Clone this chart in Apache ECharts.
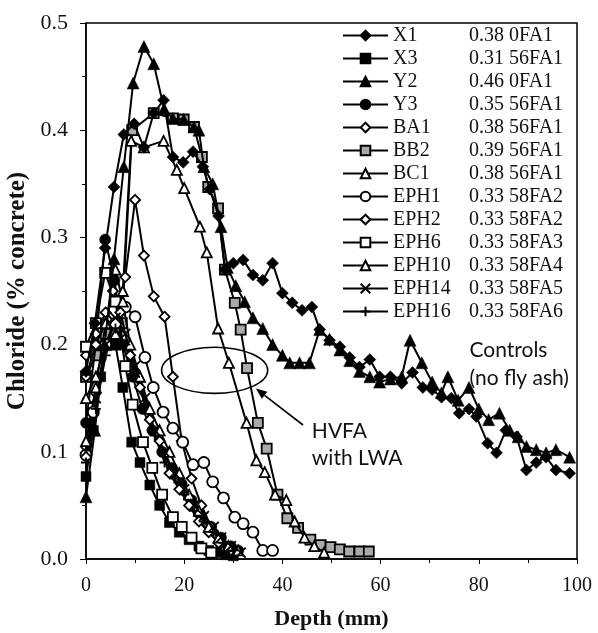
<!DOCTYPE html>
<html><head><meta charset="utf-8">
<script src="https://cdn.jsdelivr.net/npm/echarts@6/dist/echarts.min.js"></script>
<style>html,body{margin:0;padding:0;background:#fff}#c{width:598px;height:633px}</style>
</head><body><div id="c"></div>
<script>
// Mixture label per series (w/c and fly-ash designation)
const seriesNames = ['X1','X3','Y2','Y3','BA1','BB2','BC1','EPH1','EPH2','EPH6','EPH10','EPH14','EPH16'];
const mixInfo = ['0.38 0FA1','0.31 56FA1','0.46 0FA1','0.35 56FA1','0.38 56FA1','0.39 56FA1','0.38 56FA1','0.33 58FA2','0.33 58FA2','0.33 58FA3','0.33 58FA4','0.33 58FA5','0.33 58FA6'];
const xTicks = [0,20,40,60,80,100];
const yTicks = [0,0.1,0.2,0.3,0.4,0.5];

// [depth mm, chloride % concrete]
const X1 = [[0,0.175],[1.8,0.22],[3.9,0.29],[5.7,0.347],[7.7,0.396],[9.8,0.406],[11.8,0.384],[13.8,0.416],[15.8,0.428],[17.7,0.375],[19.8,0.37],[21.8,0.38],[23.8,0.366],[25.2,0.345],[27,0.32],[28.3,0.27],[30,0.276],[32,0.279],[34,0.265],[36,0.26],[38,0.276],[40,0.248],[42,0.239],[44,0.232],[46,0.235],[47.6,0.214],[49.6,0.204],[51.7,0.198],[53.7,0.188],[55.7,0.179],[57.8,0.186],[59.8,0.17],[62,0.17],[64.3,0.164],[66.5,0.174],[68.6,0.16],[70.5,0.158],[72.4,0.151],[74.4,0.15],[76,0.136],[78,0.14],[79.5,0.133],[81.8,0.108],[83.6,0.099],[85.5,0.12],[87.7,0.114],[89.7,0.083],[91.7,0.09],[93.7,0.095],[95.7,0.083],[98.5,0.08]];
const X3 = [[0,0.077],[1.5,0.12],[3,0.17],[4.5,0.2],[6,0.2],[7.5,0.16],[9.3,0.109],[11,0.09],[13,0.069],[15,0.05],[17,0.034],[19,0.025],[21,0.018],[23,0.012],[25,0.008],[26.6,0.006],[28.5,0.004],[30,0.003]];
const Y2 = [[0,0.058],[1.8,0.12],[3.8,0.2],[5.7,0.28],[7.7,0.366],[9.6,0.444],[11.8,0.478],[13.8,0.462],[15.9,0.42],[17.7,0.411],[19.9,0.41],[22,0.403],[23,0.4],[24,0.366],[25.8,0.35],[27.5,0.31],[28.8,0.272],[30.5,0.255],[32.3,0.24],[34,0.225],[36,0.215],[38,0.2],[40,0.19],[41.5,0.183],[43.5,0.183],[45.5,0.183],[47.6,0.214],[49.6,0.205],[51.7,0.195],[53.7,0.185],[55.7,0.175],[57.8,0.17],[59.8,0.165],[62,0.168],[64.3,0.17],[66,0.204],[68.4,0.183],[70.5,0.165],[72.4,0.155],[73.7,0.17],[75.8,0.148],[78,0.16],[80,0.14],[82,0.13],[84.2,0.136],[86.3,0.12],[88,0.114],[89.7,0.105],[91.7,0.102],[93.7,0.099],[95.7,0.102],[98.5,0.095]];
const Y3 = [[0,0.127],[2,0.2],[3.9,0.298],[5.8,0.26],[7.5,0.2],[9.5,0.17],[11.5,0.14],[13.5,0.12],[15.5,0.1],[17.5,0.085],[19.5,0.07],[21.5,0.055],[23.5,0.04],[25.5,0.03],[27.5,0.02],[29.5,0.012],[31,0.008]];
const BA1 = [[0,0.19],[2,0.21],[4,0.23],[6,0.22],[8,0.263],[10,0.335],[11.8,0.283],[13.8,0.245],[16,0.226],[17.7,0.17],[19.5,0.11],[21.5,0.075],[23.5,0.05],[25.5,0.03],[27.5,0.015],[29.5,0.008]];
const BB2 = [[0,0.17],[2,0.19],[4,0.21],[6,0.2],[7.3,0.22],[9.4,0.4],[13.8,0.416],[17.7,0.411],[19.9,0.41],[22,0.403],[23.6,0.375],[24.9,0.347],[26.9,0.327],[28.3,0.27],[30.3,0.239],[31.5,0.214],[32.8,0.178],[35,0.127],[36.8,0.103],[39,0.06],[41,0.038],[43.2,0.029],[45.7,0.018],[47.8,0.013],[49.8,0.011],[51.7,0.009],[53.6,0.007],[55.7,0.007],[57.6,0.007]];
const BC1 = [[0,0.15],[2,0.17],[4,0.2],[6,0.21],[7.5,0.25],[9.2,0.39],[11.8,0.384],[15.8,0.39],[18.5,0.363],[20,0.346],[23.2,0.31],[24.6,0.286],[26.9,0.215],[29.1,0.183],[32.7,0.127],[34.7,0.092],[36.4,0.081],[38.5,0.06],[40.8,0.055],[42.5,0.035],[44.5,0.02],[46.5,0.012],[48.5,0.006]];
const EPH1 = [[0,0.097],[1.5,0.137],[4,0.2],[6,0.22],[8,0.235],[10,0.226],[12,0.188],[13.7,0.16],[15.7,0.137],[17.7,0.122],[19.7,0.109],[21.8,0.088],[24,0.09],[25.8,0.072],[28,0.057],[30.3,0.039],[32,0.033],[34,0.025],[36,0.008],[38,0.008]];
const EPH2 = [[0,0.17],[2,0.2],[4,0.22],[5.5,0.25],[7,0.23],[9,0.19],[11,0.16],[13,0.13],[15,0.11],[17,0.08],[19,0.065],[21,0.05],[23,0.035],[25,0.025],[27,0.015],[29,0.01]];
const EPH6 = [[0,0.198],[2,0.22],[3.9,0.267],[6,0.24],[8,0.18],[9.5,0.144],[11.6,0.109],[13.5,0.085],[15.5,0.06],[17.7,0.039],[19.5,0.03],[21.5,0.02],[23.5,0.01],[25.5,0.006]];
const EPH10 = [[0,0.11],[2,0.16],[4,0.22],[6,0.27],[7.5,0.24],[9,0.2],[11,0.17],[13,0.14],[15,0.12],[17,0.1],[19,0.08],[21,0.06],[23,0.045],[25,0.03],[27,0.02],[29,0.012],[31,0.008]];
const EPH14 = [[0,0.1],[2,0.15],[4,0.2],[6,0.225],[8,0.21],[10,0.18],[12,0.15],[14,0.12],[16,0.1],[18,0.08],[20,0.065],[22,0.05],[24,0.04],[26,0.03],[27.5,0.02],[29.5,0.012],[31.5,0.006]];
const EPH16 = [[0,0.09],[2,0.14],[4,0.19],[6,0.215],[8,0.2],[10,0.17],[12,0.145],[14,0.115],[16,0.09],[18,0.075],[20,0.06],[22,0.045],[24,0.035],[26,0.025],[28,0.015],[30,0.008]];

const allData = [X1,X3,Y2,Y3,BA1,BB2,BC1,EPH1,EPH2,EPH6,EPH10,EPH14,EPH16];
const symbols = ['diamond','rect','triangle','circle','diamond','rect','triangle','circle','diamond','rect','triangle','path://M0,0L10,10M10,0L0,10','path://M5,0L5,10M0,5L10,5'];
const fills = ['#000','#000','#000','#000','#fff','#aaa','#fff','#fff','#fff','#fff','#fff','#000','#000'];
const sizes = [12,10,12,11,10,10,10,11,10,10,10,10,10];
const zs = [5,3,6,3,3,2,3,3,3,3,3,3,3];

const chart = echarts.init(document.getElementById('c'), null, {renderer:'canvas'});
const serif = "'Liberation Serif','Times New Roman',serif";
const mixMap = {};
seriesNames.forEach((n,i)=>mixMap[n]=mixInfo[i]);

const series = seriesNames.map((n,i)=>({
  name:n, type:'line', data:allData[i], symbol:symbols[i], symbolSize:sizes[i],
  showAllSymbol:true, animation:false,
  lineStyle:{color:'#000', width:2},
  itemStyle:{color:fills[i], borderColor:'#000', borderWidth:(i<4?0.5:1.8)},
  z: zs[i]
}));

chart.setOption({
  animation:false,
  grid:{left:86, right:21, top:23, bottom:74, show:true, borderColor:'#000', borderWidth:1.5, containLabel:false, outerBoundsMode:'none'},
  xAxis:{type:'value', min:0, max:100, interval:20,
    name:'Depth (mm)', nameLocation:'middle', nameGap:49,
    nameTextStyle:{fontFamily:serif, fontSize:22, color:'#111', fontWeight:'bold'},
    axisLine:{lineStyle:{color:'#000', width:1.5}},
    axisTick:{show:true, length:5, lineStyle:{color:'#000'}},
    minorTick:{show:true, splitNumber:2, length:4, lineStyle:{color:'#000'}},
    splitLine:{show:false},
    axisLabel:{fontFamily:serif, fontSize:20, color:'#111', margin:17}},
  yAxis:{type:'value', min:0, max:0.5, interval:0.1,
    name:'Chloride (% concrete)', nameLocation:'middle', nameGap:50,
    nameTextStyle:{fontFamily:serif, fontSize:25, color:'#111', fontWeight:'bold'},
    axisLine:{lineStyle:{color:'#000', width:1.5}},
    axisTick:{show:true, length:6, lineStyle:{color:'#000'}},
    minorTick:{show:true, splitNumber:2, length:4, lineStyle:{color:'#000'}},
    splitLine:{show:false},
    axisLabel:{fontFamily:serif, fontSize:22, color:'#111', margin:18, formatter:v=>v.toFixed(1)}},
  legend:{orient:'vertical', left:337, top:20, itemWidth:45, itemHeight:12, itemGap:2,
    data:seriesNames,
    textStyle:{fontFamily:serif, fontSize:20, color:'#111', lineHeight:21,
      rich:{n:{width:76, fontFamily:serif, fontSize:20, color:'#111', lineHeight:21}, v:{fontFamily:serif, fontSize:20, color:'#111', lineHeight:21}}},
    formatter:name=>'{n|'+name+'}{v|'+mixMap[name]+'}'},
  series: series
});

function P(d,v){return chart.convertToPixel({gridIndex:0},[d,v]);}
const c = P(26.2,0.176), ex = P(37,0.176), ey = P(26.2,0.1975);
const a0 = P(44.2,0.125), a1 = P(34.6,0.159);
const ang = Math.atan2(a1[1]-a0[1], a1[0]-a0[0]);
const hl = 11, hw = 4.5;
const bx = a1[0]-hl*Math.cos(ang), by = a1[1]-hl*Math.sin(ang);
const head = [[a1[0],a1[1]],[bx+hw*Math.sin(ang), by-hw*Math.cos(ang)],[bx-hw*Math.sin(ang), by+hw*Math.cos(ang)]];
const t1 = P(78.1,0.208), t2 = P(46.0,0.1315);
const sans = "Lato,'Open Sans',sans-serif";
chart.setOption({graphic:[
  {type:'ellipse', shape:{cx:c[0], cy:c[1], rx:ex[0]-c[0], ry:c[1]-ey[1]}, style:{fill:'none', stroke:'#000', lineWidth:1.6}, z:100},
  {type:'line', shape:{x1:a0[0], y1:a0[1], x2:bx, y2:by}, style:{stroke:'#000', lineWidth:1.6}, z:100},
  {type:'polygon', shape:{points:head}, style:{fill:'#000'}, z:100},
  {type:'text', left:t1[0], top:t1[1], style:{text:'Controls\n(no fly ash)', font:'21px '+sans, fill:'#111', lineHeight:28}, z:100},
  {type:'text', left:t2[0], top:t2[1], style:{text:'HVFA\nwith LWA', font:'21px '+sans, fill:'#111', lineHeight:27}, z:100}
]});
</script></body></html>
